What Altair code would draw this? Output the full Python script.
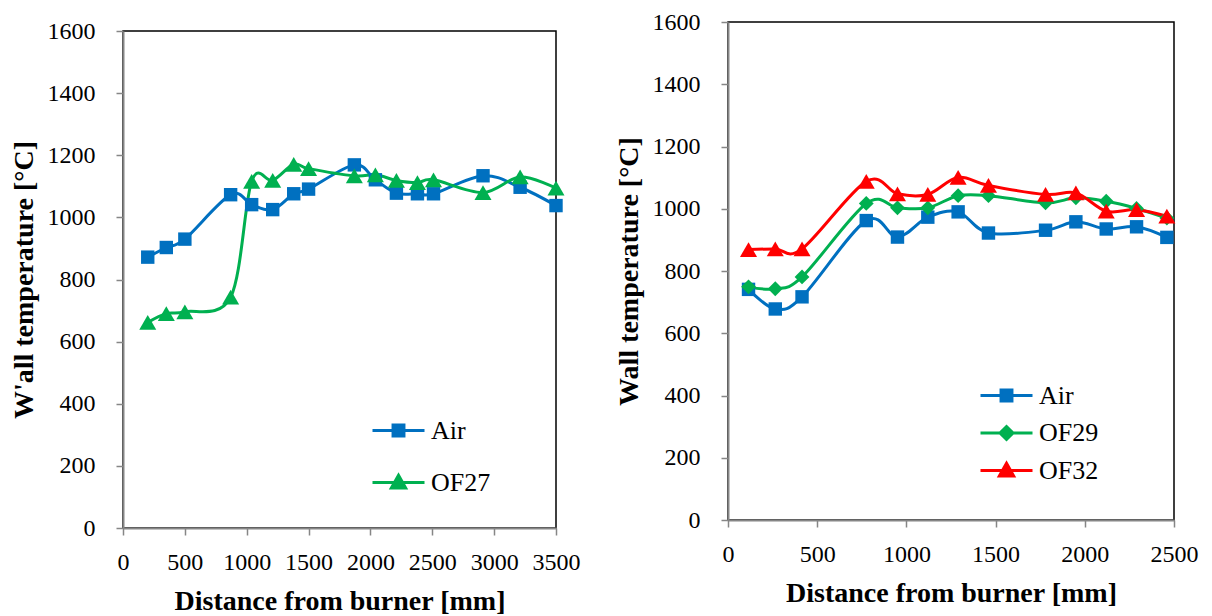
import altair as alt
import pandas as pd

FONT = "Liberation Serif"
BLUE = "#0070C0"
GREEN = "#00B050"
RED = "#FF0000"

# ---- left panel data ----
left_x = [200, 350, 500, 870, 1040, 1210, 1380, 1500, 1870, 2040, 2210, 2380, 2510, 2910, 3210, 3500]
left_air = [872, 903, 930, 1073, 1041, 1025, 1076, 1091, 1169, 1121, 1078, 1076, 1076, 1134, 1097, 1038]
left_of27 = [662, 690, 696, 743, 1116, 1119, 1171, 1157, 1134, 1137, 1119, 1112, 1121, 1080, 1130, 1094]

# ---- right panel data ----
right_x = [115, 265, 415, 775, 950, 1120, 1290, 1460, 1780, 1950, 2120, 2290, 2460]
right_air = [741, 678, 717, 962, 909, 973, 990, 922, 931, 958, 935, 942, 908]
right_of29 = [749, 743, 781, 1017, 1003, 1003, 1042, 1042, 1019, 1035, 1024, 1001, 970]
right_of32 = [869, 871, 871, 1088, 1048, 1046, 1101, 1075, 1046, 1051, 992, 997, 976]

left_names = ["Air", "OF27"]
right_names = ["Air", "OF29", "OF32"]

x_title = "Distance from burner [mm]"
left_y_title = "W'all temperature [°C]"
right_y_title = "Wall temperature [°C]"

MARK = {
    "square": ("square", 180),
    "diamond": ("diamond", 220),
    "triangle": ("triangle-up", 290),
}
LEG = {
    "square": "M-2,0H2M-0.42,-0.42H0.42V0.42H-0.42Z",
    "diamond": "M-2,0H2M0,-0.5L0.5,0L0,0.5L-0.5,0Z",
    "triangle": "M-2,0H2M0,-0.55L0.55,0.42L-0.55,0.42Z",
}


def make_df(xs, series):
    rows = []
    for name, vals in series:
        for xv, yv in zip(xs, vals):
            rows.append({"x": xv, "y": yv, "series": name})
    return pd.DataFrame(rows)


def panel(df, names, colors, kinds, xmax, width, height, ytitle, leg):
    xenc = alt.X("x:Q", scale=alt.Scale(domain=[0, xmax], nice=False, zero=True),
                 axis=alt.Axis(values=list(range(0, xmax + 1, 500)), title=x_title, format="d"))
    yenc = alt.Y("y:Q", scale=alt.Scale(domain=[0, 1600], nice=False),
                 axis=alt.Axis(values=list(range(0, 1601, 200)), title=ytitle, format="d"))
    base = alt.Chart(df)
    layers = []
    for name, col in zip(names, colors):
        layers.append(
            base.transform_filter(alt.datum.series == name)
            .mark_line(interpolate="cardinal", strokeWidth=3, color=col)
            .encode(x=xenc, y=yenc)
        )
    for name, col, kind in zip(names, colors, kinds):
        shp, sz = MARK[kind]
        layers.append(
            base.transform_filter(alt.datum.series == name)
            .mark_point(filled=True, opacity=1, shape=shp, size=sz, color=col)
            .encode(x=xenc, y=yenc)
        )
    # legend-only layer: its marks are moved outside the plot and clipped away
    legend_layer = base.transform_calculate(y="-5000").mark_point(
        filled=True, opacity=1, strokeWidth=3, size=676, clip=True
    ).encode(
        x=xenc, y=yenc,
        fill=alt.Fill("series:N", scale=alt.Scale(domain=names, range=colors), legend=leg),
        stroke=alt.Stroke("series:N", scale=alt.Scale(domain=names, range=colors), legend=leg),
        shape=alt.Shape("series:N", scale=alt.Scale(domain=names, range=[LEG[k] for k in kinds]), legend=leg),
    )
    layers.append(legend_layer)
    return alt.layer(*layers).properties(width=width, height=height)


def spacer(df, xmax, width):
    return alt.Chart(df).transform_filter("false").mark_point(opacity=0).encode(
        x=alt.X("x:Q", axis=None, scale=alt.Scale(domain=[0, xmax], nice=False)),
        y=alt.Y("y:Q", axis=None, scale=alt.Scale(domain=[0, 1600], nice=False)),
    ).properties(width=width, height=1, view=alt.ViewBackground(stroke=None))


common_leg = dict(title=None, orient="none", symbolSize=676, symbolStrokeWidth=3, symbolOpacity=1,
                  labelFont=FONT, labelFontSize=26, labelColor="black", labelOffset=18, padding=0)

left_leg = alt.Legend(legendX=261, legendY=408, rowPadding=24, **common_leg)
right_leg = alt.Legend(legendX=264, legendY=373, rowPadding=9.5, **common_leg)

left_df = make_df(left_x, [("Air", left_air), ("OF27", left_of27)])
right_df = make_df(right_x, [("Air", right_air), ("OF29", right_of29), ("OF32", right_of32)])

left_panel = panel(left_df, left_names, [BLUE, GREEN], ["square", "triangle"], 3500, 433, 497,
                   left_y_title, left_leg)
right_panel = panel(right_df, right_names, [BLUE, GREEN, RED], ["square", "diamond", "triangle"], 2500, 446, 498,
                    right_y_title, right_leg)

# the left plot sits 9 px lower than the right one
left = alt.vconcat(spacer(left_df, 3500, 433), left_panel, spacing=9)
right = alt.vconcat(spacer(right_df, 2500, 446), right_panel, spacing=0)

chart = (
    alt.hconcat(left, right, spacing=33)
    .resolve_scale(fill="independent", stroke="independent", shape="independent",
                   x="independent", y="independent")
    .resolve_legend(fill="independent", stroke="independent", shape="independent")
    .properties(padding={"left": 9, "top": 8, "right": 0, "bottom": 0}, background="white")
    .configure_view(stroke="black", strokeWidth=1.5)
    .configure_axis(
        domainColor="#868686", domainWidth=2, tickColor="#868686", tickWidth=1.5, tickSize=7,
        labelFont=FONT, labelFontSize=24, labelColor="black", labelFlush=False, labelOverlap=False,
        titleFont=FONT, titleFontSize=28, titleFontWeight="bold", titleColor="black", grid=False,
    )
    .configure_axisX(labelPadding=15.5, titlePadding=13)
    .configure_axisY(labelPadding=21, titlePadding=9)
)

chart.save("out.html", embed_options={"renderer": "svg", "actions": False})
